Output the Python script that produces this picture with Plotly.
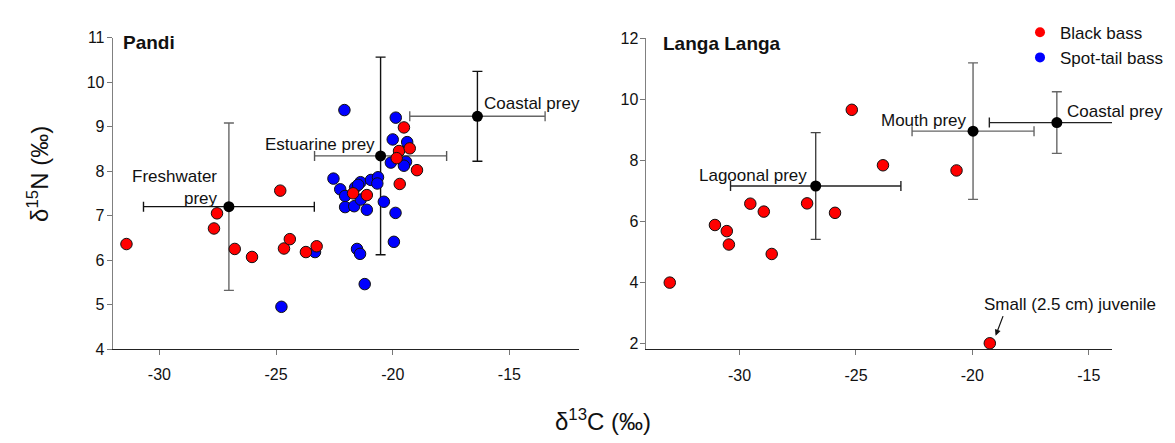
import plotly.graph_objects as go

# ---------------- data ----------------
pandi_black_x = [-31.41, -27.53, -27.66, -26.77, -26.03, -24.82, -24.66, -24.41, -23.72, -23.26,
                 -21.70, -21.11, -19.52, -19.73, -19.27, -19.83, -19.70, -18.96]
pandi_black_y = [6.36, 7.05, 6.71, 6.25, 6.07, 7.56, 6.26, 6.47, 6.18, 6.31,
                 7.50, 7.46, 8.98, 8.45, 8.51, 8.29, 7.71, 8.02]

pandi_spot_x = [-22.07, -19.87, -20.00, -19.38, -20.08, -19.43, -19.52, -22.54, -22.25, -22.04,
                -21.61, -21.38, -21.48, -20.93, -20.63, -20.66, -22.04, -21.65, -21.37, -21.11,
                -20.38, -19.88, -19.95, -21.53, -21.40, -23.33, -21.20, -24.77]
pandi_spot_y = [9.37, 9.20, 8.71, 8.65, 8.19, 8.21, 8.12, 7.83, 7.59, 7.44,
                7.63, 7.75, 7.69, 7.80, 7.86, 7.72, 7.19, 7.21, 7.36, 7.13,
                7.31, 7.06, 6.41, 6.25, 6.14, 6.18, 5.46, 4.95]

langa_black_x = [-33.00, -31.06, -30.55, -30.46, -29.54, -28.96, -28.62, -27.10, -25.90, -25.18,
                 -23.84, -20.68, -19.25]
langa_black_y = [3.99, 5.88, 5.68, 5.24, 6.58, 6.32, 4.93, 6.59, 6.28, 9.66,
                 7.84, 7.67, 2.00]

pandi_prey_names = ["Freshwater prey", "Estuarine prey", "Coastal prey"]
pandi_prey_x = [-27.02, -20.52, -16.37]
pandi_prey_y = [7.20, 8.34, 9.23]
pandi_prey_sdx = [3.66, 2.83, 2.90]
pandi_prey_sdy = [1.88, 2.22, 1.01]

langa_prey_names = ["Lagoonal prey", "Mouth prey", "Coastal prey"]
langa_prey_x = [-26.73, -19.97, -16.37]
langa_prey_y = [7.16, 8.96, 9.24]
langa_prey_sdx = [3.66, 2.62, 2.90]
langa_prey_sdy = [1.75, 2.24, 1.01]

x_ticks = [-30, -25, -20, -15]
x_tick_labels = ["-30", "-25", "-20", "-15"]
pandi_y_ticks = [4, 5, 6, 7, 8, 9, 10, 11]
langa_y_ticks = [2, 4, 6, 8, 10, 12]

# ---------------- styles ----------------
FONT = "Liberation Sans, Arial, sans-serif"
TXT = "#111111"
RED = "#ff0000"
BLUE = "#0000ff"
pandi_bar_colors = [("#111111", "#666666"), ("#555555", "#111111"), ("#666666", "#111111")]  # (x, y)
langa_bar_colors = [("#222222", "#444444"), ("#666666", "#666666"), ("#222222", "#666666")]

fig = go.Figure()


def add_prey(names, xs, ys, sdx, sdy, colors, xa, ya):
    for i in range(len(names)):
        fig.add_trace(go.Scatter(
            x=[xs[i]], y=[ys[i]], mode="markers", name=names[i], showlegend=False,
            xaxis=xa, yaxis=ya,
            marker=dict(color="black", size=11, line=dict(width=0)),
            error_x=dict(type="data", array=[sdx[i]], color=colors[i][0], thickness=1.4, width=5),
            error_y=dict(type="data", array=[sdy[i]], color=colors[i][1], thickness=1.4, width=5),
            hoverinfo="skip"))


add_prey(pandi_prey_names, pandi_prey_x, pandi_prey_y, pandi_prey_sdx, pandi_prey_sdy,
         pandi_bar_colors, "x", "y")
add_prey(langa_prey_names, langa_prey_x, langa_prey_y, langa_prey_sdx, langa_prey_sdy,
         langa_bar_colors, "x2", "y2")

mk_blue = dict(color=BLUE, size=11.5, line=dict(color="#111111", width=1))
mk_red = dict(color=RED, size=11.5, line=dict(color="#111111", width=1))

fig.add_trace(go.Scatter(x=pandi_spot_x, y=pandi_spot_y, mode="markers", name="Spot-tail bass",
                         marker=mk_blue, showlegend=False, xaxis="x", yaxis="y"))
fig.add_trace(go.Scatter(x=pandi_black_x, y=pandi_black_y, mode="markers", name="Black bass",
                         marker=mk_red, showlegend=False, xaxis="x", yaxis="y"))
fig.add_trace(go.Scatter(x=langa_black_x, y=langa_black_y, mode="markers", name="Black bass",
                         marker=mk_red, showlegend=False, xaxis="x2", yaxis="y2"))

# legend entries
fig.add_trace(go.Scatter(x=[None], y=[None], mode="markers", name="Black bass",
                         marker=dict(color=RED, size=10), xaxis="x2", yaxis="y2"))
fig.add_trace(go.Scatter(x=[None], y=[None], mode="markers", name="Spot-tail bass",
                         marker=dict(color=BLUE, size=10), xaxis="x2", yaxis="y2"))

axis_common = dict(showgrid=False, zeroline=False, showline=True, ticks="outside", ticklen=5,
                   tickwidth=1, tickcolor="#777777",
                   tickfont=dict(family=FONT, size=16, color=TXT), mirror=False)

fig.update_layout(
    width=1175, height=443,
    margin=dict(l=0, r=0, t=0, b=0),
    paper_bgcolor="white", plot_bgcolor="white",
    font=dict(family=FONT, color=TXT),
    xaxis=dict(domain=[0.09591, 0.49311], range=[-32, -12], tickvals=x_ticks, ticktext=x_tick_labels,
               linecolor="#222222", anchor="y", ticklabelstandoff=6, **axis_common),
    yaxis=dict(domain=[0.19932, 0.93070], range=[4, 11], tickvals=pandi_y_ticks,
               linecolor="#808080", anchor="x", ticklabelstandoff=-1, **axis_common),
    xaxis2=dict(domain=[0.55021, 0.94638], range=[-34, -14], tickvals=x_ticks, ticktext=x_tick_labels,
                linecolor="#222222", anchor="y2", ticklabelstandoff=6, **axis_common),
    yaxis2=dict(domain=[0.19865, 0.92844], range=[1.8, 12], tickvals=langa_y_ticks,
                linecolor="#808080", anchor="x2", ticklabelstandoff=-1, **axis_common),
    legend=dict(x=1020 / 1175, y=1 - 7 / 443, xanchor="left", yanchor="top",
                font=dict(family=FONT, size=17, color=TXT), bgcolor="rgba(0,0,0,0)",
                itemwidth=30, tracegroupgap=0),
)

lab = dict(family=FONT, size=17, color=TXT)
ann = [
    dict(text="<b>Pandi</b>", xref="paper", yref="paper", x=120.5 / 1175, y=1 - 36 / 443,
         xanchor="left", yanchor="middle", showarrow=False, font=dict(family=FONT, size=19, color=TXT)),
    dict(text="<b>Langa Langa</b>", xref="paper", yref="paper", x=660.5 / 1175, y=1 - 36.5 / 443,
         xanchor="left", yanchor="middle", showarrow=False, font=dict(family=FONT, size=19, color=TXT)),
    dict(text="Freshwater<br>prey", xref="x", yref="y", x=-27.40, y=7.62, xanchor="right",
         yanchor="middle", align="right", showarrow=False, font=lab),
    dict(text="Estuarine prey", xref="x", yref="y", x=-20.67, y=8.60, xanchor="right",
         yanchor="middle", showarrow=False, font=lab),
    dict(text="Coastal prey", xref="x", yref="y", x=-16.17, y=9.51, xanchor="left",
         yanchor="middle", showarrow=False, font=lab),
    dict(text="Lagoonal prey", xref="x2", yref="y2", x=-27.03, y=7.52, xanchor="right",
         yanchor="middle", showarrow=False, font=lab),
    dict(text="Mouth prey", xref="x2", yref="y2", x=-20.15, y=9.30, xanchor="right",
         yanchor="middle", showarrow=False, font=lab),
    dict(text="Coastal prey", xref="x2", yref="y2", x=-16.03, y=9.59, xanchor="left",
         yanchor="middle", showarrow=False, font=lab),
    dict(text="Small (2.5 cm) juvenile", xref="x2", yref="y2", x=-15.79, y=3.27, xanchor="center",
         yanchor="middle", showarrow=False, font=lab),
    dict(text="", xref="x2", yref="y2", x=-19.0, y=2.25, ax=8, ay=-21, showarrow=True,
         arrowhead=2, arrowsize=1, arrowwidth=1.2, arrowcolor="#111111", standoff=0),
    dict(text="δ<sup>15</sup>N (‰)", xref="paper", yref="paper", x=38 / 1175, y=1 - 172.5 / 443,
         textangle=-90, xanchor="center", yanchor="middle", showarrow=False,
         font=dict(family=FONT, size=24, color=TXT)),
    dict(text="δ<sup>13</sup>C (‰)", xref="paper", yref="paper", x=603 / 1175, y=1 - 428 / 443,
         xanchor="center", yanchor="middle", showarrow=False,
         font=dict(family=FONT, size=24, color=TXT)),
]
fig.update_layout(annotations=ann)

fig.write_html("out.html")
